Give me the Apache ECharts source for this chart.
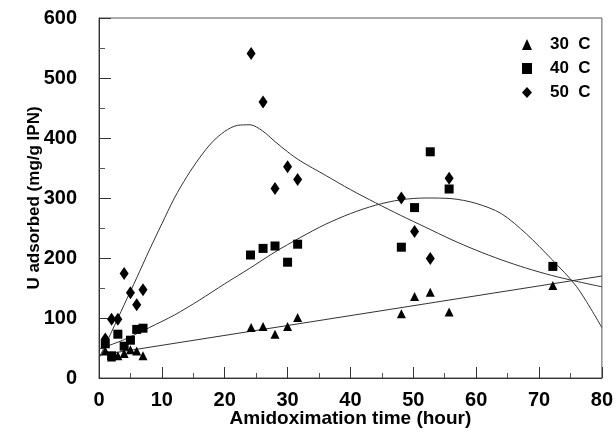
<!DOCTYPE html>
<html>
<head>
<meta charset="utf-8">
<script src="https://cdn.jsdelivr.net/npm/echarts@6/dist/echarts.min.js"></script>
<style>html,body{margin:0;padding:0;background:#fff}#c{width:616px;height:441px}</style>
</head>
<body>
<div id="c"></div>
<script>
// Measured data points
const hours30 = [1, 2, 3, 4, 5, 6, 7, 24.2, 26.1, 28, 30, 31.6, 48.1, 50.2, 52.7, 55.7, 72.2];
const u30 = [45, 35, 37, 41, 47, 45, 37, 84, 86, 73, 86, 101, 107, 136, 143, 110, 154];
const hours40 = [1, 2, 3, 4, 5, 6, 7, 24.1, 26.1, 28, 30, 31.6, 48.1, 50.2, 52.7, 55.7, 72.2];
const u40 = [57, 37, 73, 53, 63, 81, 83, 205, 216, 220, 193, 223, 218, 284, 377, 315, 186];
const hours50 = [1, 2, 3, 4, 5, 6, 7, 24.2, 26.1, 28, 30, 31.6, 48.1, 50.2, 52.7, 55.7];
const u50 = [65, 98, 98, 174, 142, 122, 147, 541, 460, 316, 352, 331, 300, 244, 199, 333];

// Fitted curves
const fit30X = [0, 80];
const fit30Y = [38, 170];
const fit40X = [0, 4, 8, 12, 16, 20, 24, 28, 32, 36, 40, 44, 48, 52, 56, 60, 64, 68, 72, 76, 80];
const fit40Y = [48, 64, 84, 105, 130, 157, 183, 210, 234, 256, 274, 288, 297, 300, 299, 291, 274, 240, 198, 152, 84];
const fit50X = [0, 2, 4, 6, 8, 10, 12, 14, 16, 18, 20, 22, 24, 26, 28, 30, 32, 36, 40, 44, 48, 52, 56, 60, 64, 68, 72, 76, 80];
const fit50Y = [33, 77, 122, 167, 213, 257, 300, 336, 367, 393, 411, 421, 422, 412, 394, 377, 362, 338, 314, 292, 271, 251, 231, 213, 197, 183, 171, 161, 152];

const seriesNames = ['30 C', '40 C', '50 C'];
const xTicks = { min: 0, max: 80, interval: 10 };
const yTicks = { min: 0, max: 600, interval: 100 };

const zip = (a, b) => a.map((v, i) => [v, b[i]]);
const FONT = 'Liberation Sans';

const chart = echarts.init(document.getElementById('c'), null, { renderer: 'canvas' });
const lineStyle = { color: '#333', width: 1 };
const mark = { color: '#000', opacity: 1 };
chart.setOption({
  animation: false,
  backgroundColor: '#fff',
  grid: { left: 99, right: 10, top: 18, bottom: 63, show: true, borderColor: '#555', borderWidth: 1 },
  legend: {
    orient: 'vertical', left: 517, top: 31, itemGap: 7, itemWidth: 10, itemHeight: 11,
    data: [
      { name: seriesNames[0], icon: 'triangle' },
      { name: seriesNames[1], icon: 'rect' },
      { name: seriesNames[2], icon: 'diamond' }
    ],
    formatter: n => n.replace(' ', '  '),
    itemStyle: { opacity: 1 },
    textStyle: { fontFamily: FONT, fontWeight: 'bold', fontSize: 17, color: '#000', padding: [0, 0, 0, 13] }
  },
  xAxis: {
    type: 'value', min: xTicks.min, max: xTicks.max, interval: xTicks.interval,
    name: 'Amidoximation time (hour)', nameLocation: 'middle', nameGap: 31, nameMoveOverlap: false,
    nameTextStyle: { fontFamily: FONT, fontWeight: 'bold', fontSize: 19, color: '#000' },
    axisLine: { lineStyle: { color: '#333', width: 1 } },
    axisTick: { inside: true, length: 11, lineStyle: { color: '#333' } },
    minorTick: { show: true, splitNumber: 2, length: 5, lineStyle: { color: '#555' } },
    splitLine: { show: false },
    axisLabel: { fontFamily: FONT, fontWeight: 'bold', fontSize: 20, color: '#000', margin: 12 }
  },
  yAxis: {
    type: 'value', min: yTicks.min, max: yTicks.max, interval: yTicks.interval,
    name: 'U adsorbed (mg/g IPN)', nameLocation: 'middle', nameGap: 56, nameRotate: 90, nameMoveOverlap: false,
    nameTextStyle: { fontFamily: FONT, fontWeight: 'bold', fontSize: 17, color: '#000' },
    axisLine: { lineStyle: { color: '#333', width: 1 } },
    axisTick: { inside: true, length: 12, lineStyle: { color: '#333' } },
    minorTick: { show: true, splitNumber: 2, length: 6, lineStyle: { color: '#555' } },
    splitLine: { show: false },
    axisLabel: { fontFamily: FONT, fontWeight: 'bold', fontSize: 20, color: '#000', margin: 22 }
  },
  series: [
    { name: seriesNames[0], type: 'scatter', symbol: 'triangle', symbolSize: [9, 9], itemStyle: mark, data: zip(hours30, u30), z: 5 },
    { name: seriesNames[1], type: 'scatter', symbol: 'rect', symbolSize: [9, 9], itemStyle: mark, data: zip(hours40, u40), z: 5 },
    { name: seriesNames[2], type: 'scatter', symbol: 'diamond', symbolSize: [9, 13], itemStyle: mark, data: zip(hours50, u50), z: 5 },
    { name: 'fit30', type: 'line', showSymbol: false, lineStyle, data: zip(fit30X, fit30Y), z: 3 },
    { name: 'fit40', type: 'line', showSymbol: false, smooth: 0.3, lineStyle, data: zip(fit40X, fit40Y), z: 3 },
    { name: 'fit50', type: 'line', showSymbol: false, smooth: 0.3, lineStyle, data: zip(fit50X, fit50Y), z: 3 }
  ]
});
</script>
</body>
</html>
